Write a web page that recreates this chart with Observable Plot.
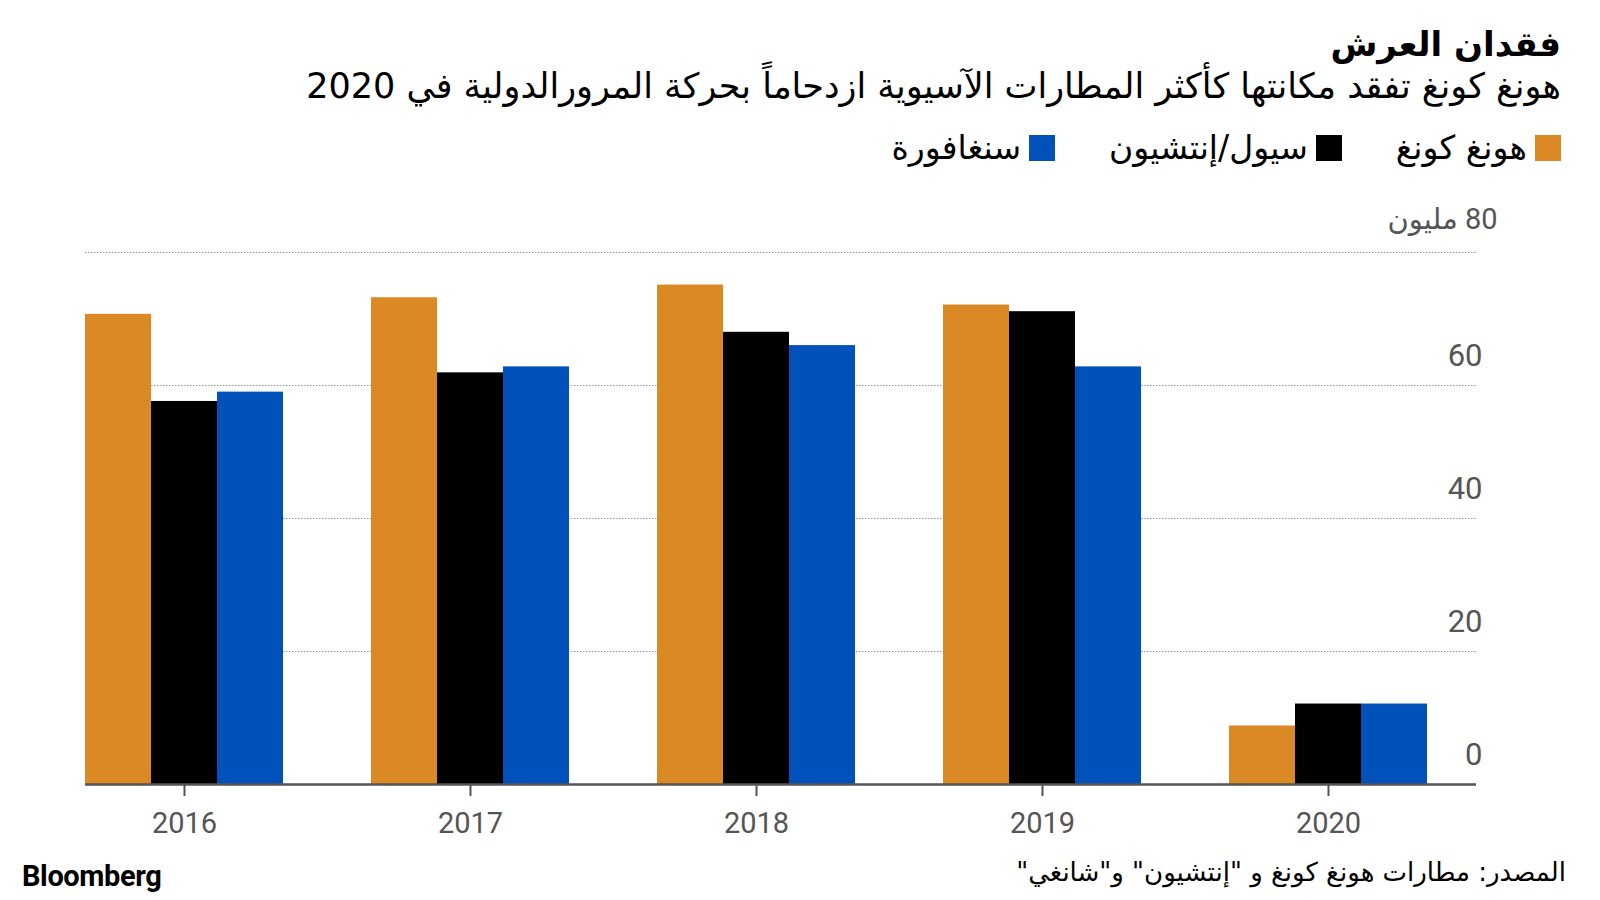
<!DOCTYPE html>
<html>
<head>
<meta charset="utf-8">
<script src="https://cdn.jsdelivr.net/npm/d3@7"></script>
<script src="https://cdn.jsdelivr.net/npm/@observablehq/plot@0.6"></script>
<style>
  body { margin: 0; width: 1600px; height: 900px; background: #fff; position: relative; overflow: hidden; font-family: "DejaVu Sans", sans-serif; }
  .rtl { position: absolute; right: 39px; direction: rtl; white-space: nowrap; color: #000; }
  #title { top: 24px; font-size: 34px; font-weight: bold; }
  #subtitle { top: 66px; font-size: 35px; }
  #legend { top: 128px; right: 39px; display: flex; gap: 54px; font-size: 33px; align-items: center; }
  .item { display: flex; align-items: center; gap: 8px; }
  .sw { width: 26px; height: 26px; display: inline-block; }
  #chart { position: absolute; left: 0; top: 190px; width: 1600px; height: 654px; }
  #chart svg { position: absolute; left: 0; top: 0; }
  #brand { position: absolute; left: 22px; top: 859px; font-family: Roboto, sans-serif; font-weight: bold; font-size: 29px; letter-spacing: -0.4px; color: #000; }
  #source { top: 857px; right: 34px; font-size: 26px; }
</style>
</head>
<body>
<div id="title" class="rtl"></div>
<div id="subtitle" class="rtl"></div>
<div id="legend" class="rtl"></div>
<div id="chart"></div>
<div id="brand"></div>
<div id="source" class="rtl"></div>
<script>
// ---- data ----
const titleText = "فقدان العرش";
const subtitleText = "هونغ كونغ تفقد مكانتها كأكثر المطارات الآسيوية ازدحاماً بحركة المرورالدولية في 2020";
const sourceText = "المصدر: مطارات هونغ كونغ و \"إنتشيون\" و\"شانغي\"";
const brandText = "Bloomberg";
const years = ["2016", "2017", "2018", "2019", "2020"];
const series = ["هونغ كونغ", "سيول/إنتشيون", "سنغافورة"];
const colors = ["#DA8924", "#000000", "#0051B9"];
const hongKong = [70.7, 73.2, 75.1, 72.1, 8.8];
const seoul = [57.6, 61.9, 68.0, 71.1, 12.1];
const singapore = [59.0, 62.8, 66.0, 62.8, 12.1];
const yTicks = [0, 20, 40, 60, 80];
const yUnit = "مليون";

// ---- build ----
document.getElementById("title").textContent = titleText;
document.getElementById("subtitle").textContent = subtitleText;
document.getElementById("source").textContent = sourceText;
document.getElementById("brand").textContent = brandText;

const legend = document.getElementById("legend");
series.forEach((s, i) => {
  const it = document.createElement("div");
  it.className = "item";
  const sw = document.createElement("span");
  sw.className = "sw";
  sw.style.background = colors[i];
  const tx = document.createElement("span");
  tx.textContent = s;
  it.appendChild(sw);
  it.appendChild(tx);
  legend.appendChild(it);
});

const valuesBySeries = [hongKong, seoul, singapore];
const data = [];
years.forEach((y, yi) => {
  series.forEach((s, si) => {
    data.push({year: y, series: s, value: valuesBySeries[si][yi]});
  });
});

const common = {
  width: 1600,
  height: 654,
  marginLeft: 85,
  marginRight: 124,
  marginTop: 62,
  marginBottom: 60,
  style: {fontFamily: "Roboto, 'DejaVu Sans', sans-serif", fontSize: "29px", color: "#555", background: "transparent", overflow: "visible"},
  y: {domain: [0, 80], axis: null}
};

// layer 1: grid and y labels
const gridLayer = Plot.plot({
  ...common,
  marks: [
    Plot.ruleY(yTicks.filter(d => d > 0), {stroke: "#999", strokeWidth: 1, strokeDasharray: "1.5,1.5"}),
    Plot.text(yTicks.filter(d => d < 80), {y: d => d, text: d => String(d), frameAnchor: "right", textAnchor: "end", dx: 6, dy: -29, fill: "#555", fontSize: 31}),
    Plot.text(yTicks.filter(d => d === 80), {y: d => d, text: d => "\u2067" + d + " " + yUnit + "\u2069", frameAnchor: "right", textAnchor: "end", dx: 21, dy: -33, fill: "#555", fontSize: 29})
  ]
});

// layer 2: grouped bars and year axis
const barLayer = Plot.plot({
  ...common,
  fx: {domain: years, paddingInner: 0.307, paddingOuter: 0.085, align: 0, label: null},
  x: {domain: series, padding: 0, axis: null},
  color: {domain: series, range: colors},
  marks: [
    Plot.barY(data, {fx: "year", x: "series", y: "value", fill: "series"}),
    Plot.axisFx({anchor: "bottom", tickSize: 12, tickPadding: 16, stroke: "#555", strokeWidth: 2, fill: "#555", fontSize: 29, label: null})
  ]
});

// layer 3: baseline
const baseLayer = Plot.plot({
  ...common,
  marks: [
    Plot.ruleY([0], {stroke: "#555", strokeWidth: 2.5})
  ]
});

const host = document.getElementById("chart");
host.appendChild(gridLayer);
host.appendChild(barLayer);
host.appendChild(baseLayer);
</script>
</body>
</html>
